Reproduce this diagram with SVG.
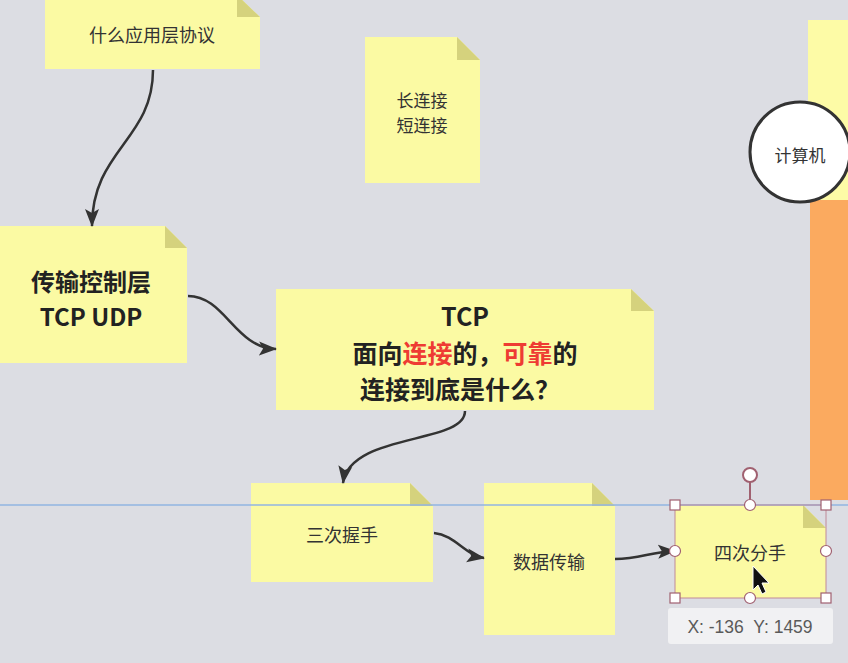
<svg xmlns="http://www.w3.org/2000/svg" width="848" height="663" viewBox="0 0 848 663">
<style>
.note{fill:#fbfaa3}
.fold{fill:#d5d27d}
.t{font-family:"Noto Sans CJK SC","Noto Sans",sans-serif;fill:#333;text-anchor:middle;dominant-baseline:central}
.s{font-size:18px}
.b{font-size:25px;font-weight:bold;fill:#222}
.red{fill:#ee3b33}
.conn{fill:none;stroke:#333;stroke-width:2.5}
.h{fill:#fff;stroke:#a06070;stroke-width:1.2}
</style>
<defs>
<marker id="ah" markerUnits="userSpaceOnUse" markerWidth="20" markerHeight="16" refX="17" refY="8" orient="auto" viewBox="0 0 20 16">
<path d="M0,1 L18,8 L0,15 L4,8 Z" fill="#333"/>
</marker>
</defs>
<rect width="848" height="663" fill="#dcdde3"/>

<g id="side-bars">
<rect x="808" y="20" width="40" height="182" fill="#fdfba6"/>
<rect x="810" y="200" width="38" height="300" fill="#fbaa5f"/>
</g>

<g id="computer">
<circle cx="800" cy="152" r="50" fill="#fff" stroke="#333" stroke-width="3"/>
<text class="t" x="800" y="154" style="font-size:17px">计算机</text>
</g>

<g id="n-app">
<path class="note" d="M45,-5 H237 L260,17 V69 H45 Z"/>
<path class="fold" d="M237,-5 L260,17 H237 Z"/>
<text class="t s" x="152" y="34">什么应用层协议</text>
</g>

<g id="n-conn">
<path class="note" d="M365,37 H457 L480,60 V183 H365 Z"/>
<path class="fold" d="M457,37 L480,60 H457 Z"/>
<text class="t" x="422" y="99" style="font-size:17px">长连接</text>
<text class="t" x="422" y="124" style="font-size:17px">短连接</text>
</g>

<g id="n-transport">
<path class="note" d="M0,226 H165 L187,248 V363 H0 Z"/>
<path class="fold" d="M165,226 L187,248 H165 Z"/>
<text class="t b" x="91" y="280" style="font-size:24px">传输控制层</text>
<text class="t b" x="91" y="315" style="font-size:24px">TCP UDP</text>
</g>

<g id="n-tcp">
<path class="note" d="M276,289 H631 L654,311 V410 H276 Z"/>
<path class="fold" d="M631,289 L654,311 H631 Z"/>
<text class="t b" x="465" y="315">TCP</text>
<text class="t b" x="465" y="352">面向<tspan class="red">连接</tspan>的，<tspan class="red">可靠</tspan>的</text>
<text class="t b" x="460" y="388">连接到底是什么？</text>
</g>

<g id="n-handshake">
<path class="note" d="M251,483 H410 L433,506 V582 H251 Z"/>
<path class="fold" d="M410,483 L433,506 H410 Z"/>
<text class="t s" x="342" y="534">三次握手</text>
</g>

<g id="n-data">
<path class="note" d="M484,483 H592 L615,506 V635 H484 Z"/>
<path class="fold" d="M592,483 L615,506 H592 Z"/>
<text class="t s" x="549" y="561">数据传输</text>
</g>

<g id="n-wave">
<path class="note" d="M675,505 H803 L826,528 V598 H675 Z"/>
<path class="fold" d="M803,505 L826,528 H803 Z"/>
<text class="t s" x="750" y="552">四次分手</text>
</g>

<line x1="0" y1="505" x2="848" y2="505" stroke="#92b5e2" stroke-width="1.3"/>

<g id="connectors">
<path class="conn" marker-end="url(#ah)" d="M153,70 C153,140 92,150 92,226"/>
<path class="conn" marker-end="url(#ah)" d="M188,296 C225,296 235,348 276,349"/>
<path class="conn" marker-end="url(#ah)" d="M465,411 C465,445 350,432 343,483"/>
<path class="conn" marker-end="url(#ah)" d="M434,533 C455,535 465,555 484,558"/>
<path class="conn" marker-end="url(#ah)" d="M615,559 C640,559 650,552 675,551"/>
</g>

<g id="selection">
<rect x="675" y="505" width="151" height="93" fill="none" stroke="#c08a98" stroke-width="1"/>
<line x1="750" y1="482" x2="750" y2="505" stroke="#a06070" stroke-width="2"/>
<circle cx="750" cy="475" r="7" fill="#fff" stroke="#a06070" stroke-width="2"/>
<rect class="h" x="670" y="500" width="10" height="10"/>
<rect class="h" x="821" y="500" width="10" height="10"/>
<rect class="h" x="670" y="593" width="10" height="10"/>
<rect class="h" x="821" y="593" width="10" height="10"/>
<circle class="h" cx="750" cy="505" r="5.5"/>
<circle class="h" cx="675" cy="551" r="5.5"/>
<circle class="h" cx="826" cy="551" r="5.5"/>
<circle class="h" cx="750" cy="598" r="5.5"/>
</g>

<g id="cursor">
<path d="M753,566 L753,590 L758,585 L762,594 L766,592 L762,583 L769,583 Z" fill="#111" stroke="#fff" stroke-width="1"/>
</g>

<g id="coords">
<rect x="668" y="608" width="165" height="36" rx="3" fill="#f1f1f3"/>
<text x="750" y="633" style="font-family:'Liberation Sans',Arial,sans-serif;font-size:17.5px;fill:#5a5a5a;text-anchor:middle;white-space:pre" xml:space="preserve">X: -136  Y: 1459</text>
</g>
</svg>
